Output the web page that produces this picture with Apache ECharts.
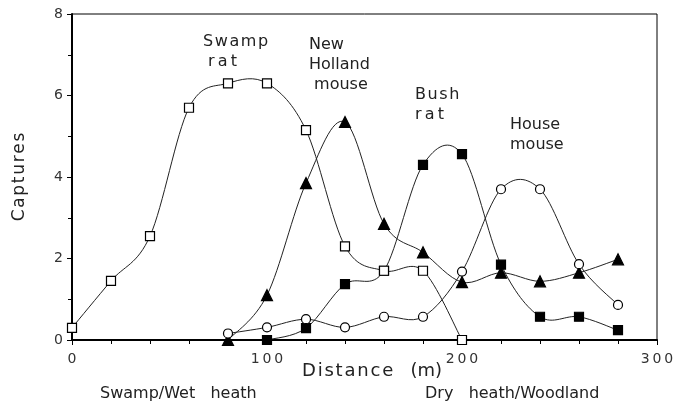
<!DOCTYPE html>
<html>
<head>
<meta charset="utf-8">
<script src="https://cdn.jsdelivr.net/npm/echarts@6/dist/echarts.min.js"></script>
<style>
  html,body{margin:0;padding:0;background:#fff;}
  #chart{width:677px;height:408px;}
</style>
</head>
<body>
<div id="chart"></div>
<script>
// distance (m) along the transect
let swampRatX=[0,20,40,60,80,100,120,140,160,180,200];
let swampRatY=[0.3,1.45,2.55,5.7,6.3,6.3,5.15,2.3,1.7,1.7,0];
let nhMouseX=[80,100,120,140,160,180,200,220,240,260,280];
let nhMouseY=[0,1.1,3.85,5.35,2.85,2.15,1.42,1.65,1.44,1.65,1.98];
let bushRatX=[100,120,140,160,180,200,220,240,260,280];
let bushRatY=[0,0.29,1.37,1.7,4.3,4.56,1.85,0.57,0.57,0.24];
let houseMouseX=[80,100,120,140,160,180,200,220,240,260,280];
let houseMouseY=[0.16,0.31,0.51,0.31,0.57,0.57,1.68,3.7,3.7,1.86,0.86];
let xTicks=[0,100,200,300];
let yTicks=[0,2,4,6,8];

const font="'DejaVu Sans', Verdana, sans-serif";
const ink="#222";
const thin="\u2009";
const hair="\u200A";

function pairs(xs,ys){
    let out=[];
    for(let i=0;i<xs.length;i++){
        out.push([xs[i],ys[i]]);
    }
    return out;
}
function spaced(s,gap){
    return s.split('').join(gap||hair);
}

// catmull-rom curve through the points, drawn once with the axis scales
function curveSeries(xs,ys){
    return {
        type:'custom',
        data:pairs(xs,ys),
        clip:false,
        silent:true,
        z:2,
        renderItem:function(params,api){
            if(params.dataIndex!==0){
                return;
            }
            let p=[];
            for(let i=0;i<xs.length;i++){
                p.push(api.coord([xs[i],ys[i]]));
            }
            let d='M'+p[0][0]+' '+p[0][1];
            for(let i=0;i<p.length-1;i++){
                let p0=p[i>0?i-1:i];
                let p1=p[i];
                let p2=p[i+1];
                let p3=p[i+2<p.length?i+2:i+1];
                let c1x=p1[0]+(p2[0]-p0[0])/6, c1y=p1[1]+(p2[1]-p0[1])/6;
                let c2x=p2[0]-(p3[0]-p1[0])/6, c2y=p2[1]-(p3[1]-p1[1])/6;
                d+=' C'+c1x+' '+c1y+' '+c2x+' '+c2y+' '+p2[0]+' '+p2[1];
            }
            return {
                type:'path',
                shape:{pathData:d},
                style:{fill:null,stroke:ink,lineWidth:1}
            };
        }
    };
}

function markSeries(name,xs,ys,symbol,filled,size){
    return {
        name:name,
        type:'scatter',
        data:pairs(xs,ys),
        symbol:symbol,
        symbolSize:size,
        itemStyle:{color:filled?'#000':'#fff',borderColor:'#000',borderWidth:1.2,opacity:1},
        emphasis:{disabled:true},
        z:filled?3:4
    };
}

let myChart=echarts.init(document.getElementById('chart'));
let option={
    backgroundColor:'#fff',
    animation:false,
    grid:{left:72,right:20,top:14,bottom:68,show:true,borderColor:'#000',borderWidth:1,containLabel:false},
    xAxis:{
        type:'value',min:0,max:300,interval:100,
        axisLine:{show:true,onZero:false,lineStyle:{color:'#000',width:2}},
        axisTick:{show:true,length:5,lineStyle:{color:'#000',width:1}},
        minorTick:{show:true,splitNumber:5,length:4,lineStyle:{color:'#000',width:1}},
        splitLine:{show:false},
        axisLabel:{
            color:'#333',fontFamily:font,fontSize:14,margin:12,
            formatter:function(v){return xTicks.indexOf(v)>=0?spaced(String(v),thin):'';}
        }
    },
    yAxis:{
        type:'value',min:0,max:8,interval:2,
        name:spaced('Captures'),nameLocation:'middle',nameGap:44,
        nameTextStyle:{color:'#222',fontFamily:font,fontSize:17},
        axisLine:{show:true,onZero:false,lineStyle:{color:'#000',width:2}},
        axisTick:{show:true,length:5,lineStyle:{color:'#000',width:1}},
        minorTick:{show:true,splitNumber:2,length:4,lineStyle:{color:'#000',width:1}},
        splitLine:{show:false},
        axisLabel:{
            color:'#333',fontFamily:font,fontSize:14,margin:9,
            formatter:function(v){return yTicks.indexOf(v)>=0?String(v):'';}
        }
    },
    graphic:[
        {type:'text',left:302,top:362,style:{text:spaced('Distance')+'   (m)',font:'18px '+font,fill:'#222'}},
        {type:'text',left:100,top:386,style:{text:'Swamp/Wet   heath',font:'16px '+font,fill:'#222'}},
        {type:'text',left:425,top:386,style:{text:'Dry   heath/Woodland',font:'16px '+font,fill:'#222'}},
        {type:'text',left:203,top:32,style:{text:spaced('Swamp')+'\n '+spaced('rat',thin),font:'16px '+font,fill:'#222',lineHeight:20}},
        {type:'text',left:309,top:35,style:{text:'New\nHolland\n mouse',font:'16px '+font,fill:'#222',lineHeight:20}},
        {type:'text',left:415,top:85,style:{text:spaced('Bush')+'\n'+spaced('rat',thin),font:'16px '+font,fill:'#222',lineHeight:20}},
        {type:'text',left:510,top:115,style:{text:'House\nmouse',font:'16px '+font,fill:'#222',lineHeight:20}}
    ],
    series:[
        curveSeries(swampRatX,swampRatY),
        curveSeries(nhMouseX,nhMouseY),
        curveSeries(bushRatX,bushRatY),
        curveSeries(houseMouseX,houseMouseY),
        markSeries('Swamp rat',swampRatX,swampRatY,'rect',false,9),
        markSeries('New Holland mouse',nhMouseX,nhMouseY,'triangle',true,11),
        markSeries('Bush rat',bushRatX,bushRatY,'rect',true,9),
        markSeries('House mouse',houseMouseX,houseMouseY,'circle',false,9)
    ]
};
myChart.setOption(option);
</script>
</body>
</html>
